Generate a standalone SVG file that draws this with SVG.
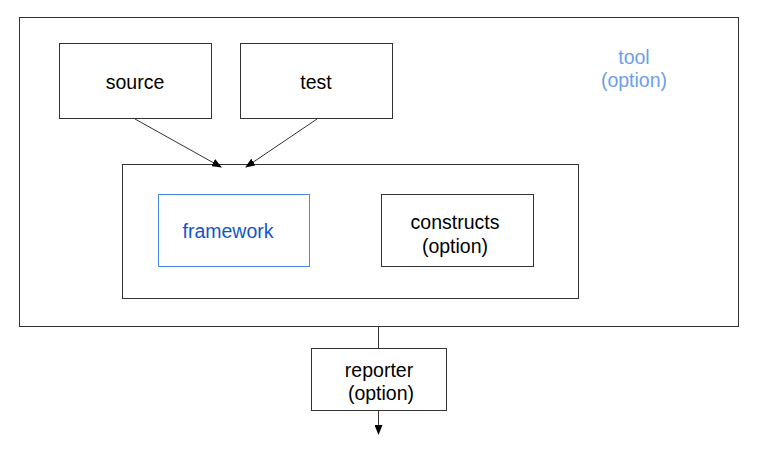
<svg xmlns="http://www.w3.org/2000/svg" width="760" height="456" viewBox="0 0 760 456">
<style>
.box{fill:#fff;stroke:#333;stroke-width:1}
.t{font-family:"Liberation Sans",Arial,sans-serif;font-size:19.5px;fill:#000;text-anchor:middle}
.c{stroke:#333;stroke-width:1;fill:none}
</style>
<defs>
<marker id="ah" markerWidth="10" markerHeight="8" refX="9" refY="4" orient="auto" markerUnits="userSpaceOnUse">
<path d="M0,0 L10,4 L0,8 z" fill="#000"/>
</marker>
</defs>
<rect width="760" height="456" fill="#fff"/>
<g id="tool">
<rect class="box" x="19.5" y="17.5" width="719" height="309"/>
<text class="t" x="634" y="64" style="fill:#6d9eeb">tool</text>
<text class="t" x="634" y="87" style="fill:#6d9eeb">(option)</text>
</g>
<g id="source">
<rect class="box" x="59.5" y="43.5" width="152" height="75"/>
<text class="t" x="135" y="89">source</text>
</g>
<g id="test">
<rect class="box" x="240.5" y="43.5" width="152" height="75"/>
<text class="t" x="316" y="89">test</text>
</g>
<g id="container">
<rect class="box" x="122.5" y="164.5" width="456" height="134"/>
</g>
<g id="framework">
<rect x="158.5" y="194.5" width="151" height="72" fill="#fff" stroke="#4a86e8"/>
<text class="t" x="228" y="238" style="fill:#1155cc">framework</text>
</g>
<g id="constructs">
<rect class="box" x="381.5" y="194.5" width="152" height="72"/>
<text class="t" x="455" y="229">constructs</text>
<text class="t" x="455" y="253">(option)</text>
</g>
<g id="reporter">
<rect class="box" x="311.5" y="348.5" width="135" height="62"/>
<text class="t" x="379" y="377">reporter</text>
<text class="t" x="381" y="400">(option)</text>
</g>
<g id="connectors">
<line class="c" x1="135" y1="119" x2="221" y2="167" marker-end="url(#ah)"/>
<line class="c" x1="317" y1="119" x2="246" y2="167" marker-end="url(#ah)"/>
<line class="c" x1="378.5" y1="327" x2="378.5" y2="348"/>
<line class="c" x1="378.5" y1="411" x2="378.5" y2="434" marker-end="url(#ah)"/>
</g>
</svg>
